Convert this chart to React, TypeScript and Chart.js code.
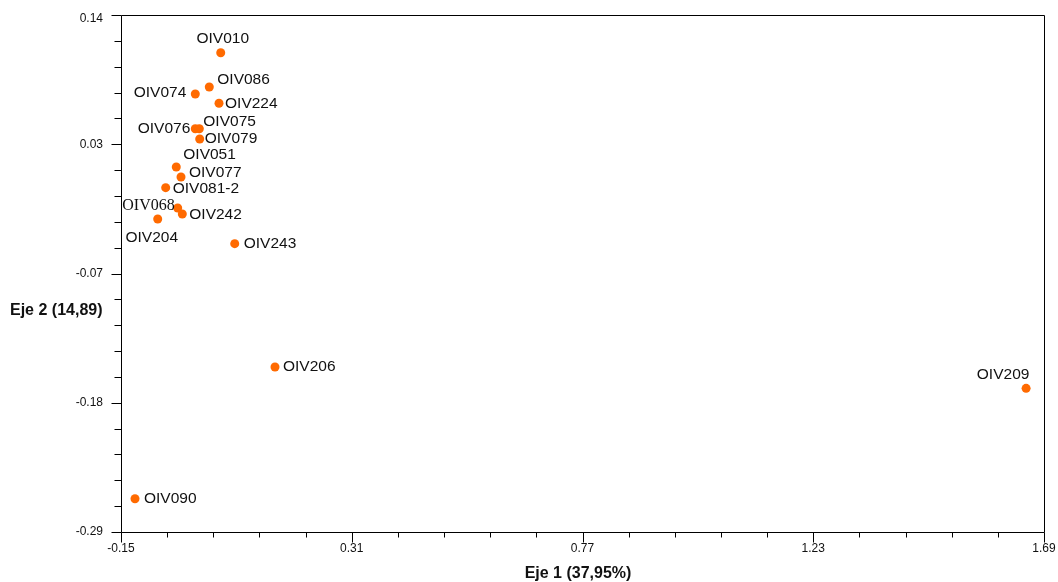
import React, { useEffect, useRef } from "react";
import { Chart, registerables } from "chart.js";

Chart.register(...registerables);

const names = [
  "OIV010", "OIV086", "OIV074", "OIV224", "OIV076", "OIV075", "OIV079", "OIV051",
  "OIV077", "OIV081-2", "OIV068", "OIV242", "OIV204", "OIV243", "OIV206", "OIV209", "OIV090",
];
const eje1 = [
  0.0488, 0.026, -0.0019, 0.0454, -0.0019, 0.0061, 0.0069, -0.0398,
  -0.0304, -0.0609, -0.037, -0.0278, -0.0768, 0.0767, 0.157, 1.6543, -0.1221,
];
const eje2 = [
  0.1086, 0.0801, 0.0743, 0.0666, 0.0454, 0.0454, 0.0369, 0.0136,
  0.0053, -0.0036, -0.0205, -0.0255, -0.0297, -0.0502, -0.1528, -0.1705, -0.2623,
];

const xTickValues = [-0.15, 0.31, 0.77, 1.23, 1.69];
const xTickLabels = ["-0.15", "0.31", "0.77", "1.23", "1.69"];
const yTickValues = [-0.29, -0.1825, -0.075, 0.0325, 0.14];
const yTickLabels = ["-0.29", "-0.18", "-0.07", "0.03", "0.14"];

const xTitle = "Eje 1 (37,95%)";
const yTitle = "Eje 2 (14,89)";

// label placement styles: [dx, dy, align, serif]
const labelPlacement: Record<string, [number, number, CanvasTextAlign, boolean?]> = {
  OIV010: [2, -14, "center"],
  OIV086: [8, -7, "left"],
  OIV074: [-9, -1, "right"],
  OIV224: [6, 0, "left"],
  OIV076: [-5, 0, "right"],
  OIV075: [4, -7, "left"],
  OIV079: [5, 0, "left"],
  OIV051: [7, -12, "left"],
  OIV077: [8, -4, "left"],
  "OIV081-2": [7, 1, "left"],
  OIV068: [-3, -2, "right", true],
  OIV242: [7, 1, "left"],
  OIV204: [-6, 19, "center"],
  OIV243: [9, 0, "left"],
  OIV206: [8, 0, "left"],
  OIV209: [-23, -14, "center"],
  OIV090: [9, 0, "left"],
};

const SANS = '"Liberation Sans", Arial, sans-serif';

const overlay = {
  id: "overlay",
  afterDraw(chart: any) {
    const ctx = chart.ctx as CanvasRenderingContext2D;
    const xs = chart.scales.x;
    const ys = chart.scales.y;
    const area = chart.chartArea;
    ctx.save();
    ctx.strokeStyle = "#000";
    ctx.lineWidth = 1;
    // frame
    ctx.beginPath();
    ctx.rect(Math.round(area.left) + 0.5, Math.round(area.top) + 0.5,
      Math.round(area.right - area.left), Math.round(area.bottom - area.top));
    ctx.stroke();

    // x ticks
    const xb = Math.round(area.bottom) + 0.5;
    for (let i = 0; i < xTickValues.length; i++) {
      const px = Math.round(xs.getPixelForValue(xTickValues[i])) + 0.5;
      ctx.beginPath();
      ctx.moveTo(px, xb);
      ctx.lineTo(px, xb + 10);
      ctx.stroke();
      if (i < xTickValues.length - 1) {
        const step = (xTickValues[i + 1] - xTickValues[i]) / 5;
        for (let k = 1; k < 5; k++) {
          const mx = Math.round(xs.getPixelForValue(xTickValues[i] + k * step)) + 0.5;
          ctx.beginPath();
          ctx.moveTo(mx, xb);
          ctx.lineTo(mx, xb + 5);
          ctx.stroke();
        }
      }
    }
    // y ticks
    const yl = Math.round(area.left) + 0.5;
    for (let i = 0; i < yTickValues.length; i++) {
      const py = Math.round(ys.getPixelForValue(yTickValues[i])) + 0.5;
      ctx.beginPath();
      ctx.moveTo(yl, py);
      ctx.lineTo(yl - 10, py);
      ctx.stroke();
      if (i < yTickValues.length - 1) {
        const step = (yTickValues[i + 1] - yTickValues[i]) / 5;
        for (let k = 1; k < 5; k++) {
          const my = Math.round(ys.getPixelForValue(yTickValues[i] + k * step)) + 0.5;
          ctx.beginPath();
          ctx.moveTo(yl, my);
          ctx.lineTo(yl - 7, my);
          ctx.stroke();
        }
      }
    }

    // tick labels
    ctx.fillStyle = "#111";
    ctx.font = `12px ${SANS}`;
    ctx.textAlign = "center";
    ctx.textBaseline = "middle";
    xTickValues.forEach((v, i) => {
      ctx.fillText(xTickLabels[i], xs.getPixelForValue(v), area.bottom + 17);
    });
    ctx.textAlign = "right";
    yTickValues.forEach((v, i) => {
      const py = ys.getPixelForValue(v);
      ctx.fillText(yTickLabels[i], area.left - 18, Math.max(py, area.top + 4));
    });

    // titles
    ctx.font = `bold 16px ${SANS}`;
    ctx.textAlign = "center";
    ctx.fillText(xTitle, 578, 574);
    ctx.textAlign = "left";
    ctx.fillText(yTitle, 10, 311);

    // point labels
    const meta = chart.getDatasetMeta(0);
    meta.data.forEach((pt: any, i: number) => {
      const name = names[i];
      const [dx, dy, align, serif] = labelPlacement[name] || [8, 0, "left"];
      ctx.font = serif ? `16px "Liberation Serif", "Times New Roman", serif` : `15.5px ${SANS}`;
      ctx.textAlign = align;
      ctx.textBaseline = "middle";
      ctx.fillStyle = "#111";
      ctx.fillText(name, pt.x + dx, pt.y + dy);
    });
    ctx.restore();
  },
};

export default function App() {
  const ref = useRef<HTMLCanvasElement | null>(null);
  useEffect(() => {
    if (!ref.current) return;
    const chart = new Chart(ref.current, {
      type: "scatter",
      data: {
        datasets: [
          {
            label: "OIV",
            data: names.map((_, i) => ({ x: eje1[i], y: eje2[i] })),
            backgroundColor: "#FF6A00",
            borderWidth: 0,
            pointRadius: 4.5,
          },
        ],
      },
      options: {
        animation: false,
        responsive: false,
        devicePixelRatio: 1,
        layout: { padding: { left: 121, top: 15, right: 14, bottom: 50 } },
        plugins: { legend: { display: false }, tooltip: { enabled: false } },
        scales: {
          x: { type: "linear", min: -0.15, max: 1.69, display: false },
          y: { type: "linear", min: -0.29, max: 0.14, display: false },
        },
      },
      plugins: [overlay],
    });
    return () => chart.destroy();
  }, []);
  return (
    <div style={{ position: "absolute", left: 0, top: 0, width: 1058, height: 582, background: "#fff" }}>
      <canvas ref={ref} width={1058} height={582} />
    </div>
  );
}
